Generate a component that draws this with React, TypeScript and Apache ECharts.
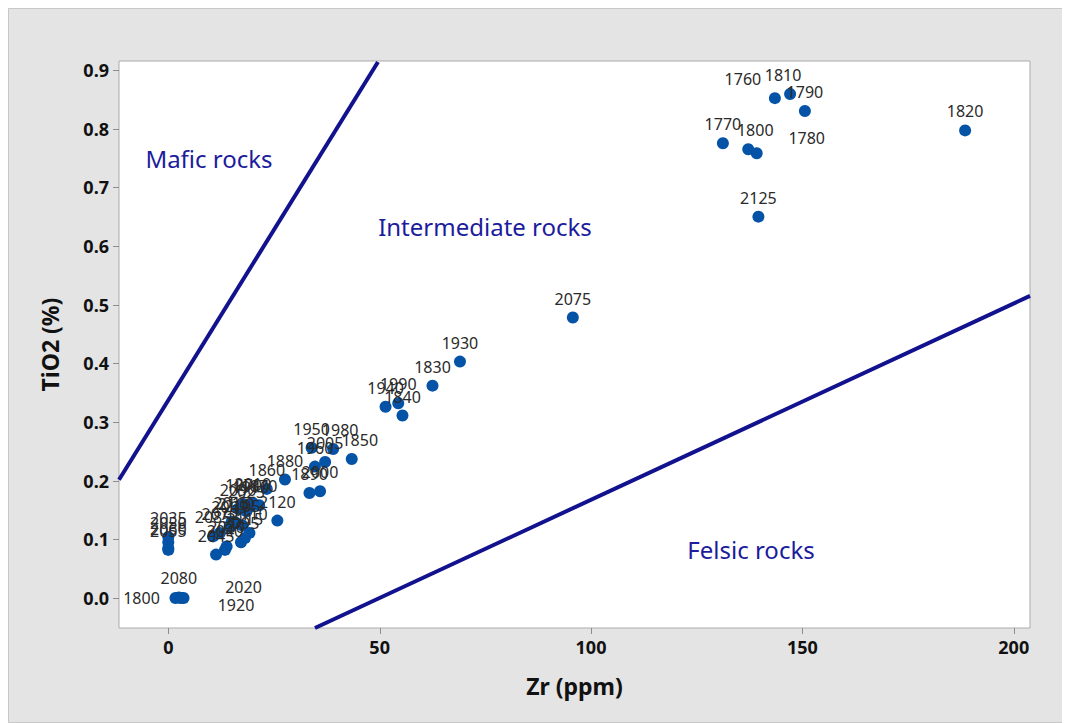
import React, { useEffect, useRef } from "react";
import * as echarts from "echarts";

// ---- data ----
const years: string[] = [
  "1760", "1810", "1790", "1770", "1800", "1780", "1820", "2125", "2075", "1930",
  "1830", "1940", "1990", "1840", "1950", "1980", "1850", "2005", "1960", "2000",
  "1890", "1880", "1860", "2120",
  "2045", "2040", "2030", "2095", "2115", "2110", "2085", "2070", "2065", "2100",
  "2105", "2015", "2025", "2090", "1910", "1970", "2010", "1870",
  "2035", "2050", "2055", "2060",
  "1800", "2080", "1920", "2020",
];
const zr: number[] = [
  143.5, 147.1, 150.6, 131.2, 137.2, 139.2, 188.5, 139.6, 95.7, 69.0,
  62.5, 51.4, 54.4, 55.4, 33.9, 39.0, 43.4, 37.1, 34.7, 35.9,
  33.4, 27.6, 23.3, 25.8,
  11.3, 13.4, 13.8, 17.2, 18.1, 19.2, 10.6, 12.2, 14.5, 16.0,
  17.5, 15.0, 18.5, 16.5, 19.5, 17.8, 20.0, 21.5,
  0.0, 0.0, 0.0, 0.0,
  1.7, 2.5, 3.0, 3.6,
];
const tio2: number[] = [
  0.852, 0.859, 0.830, 0.775, 0.765, 0.758, 0.797, 0.650, 0.478, 0.403,
  0.362, 0.326, 0.332, 0.311, 0.256, 0.254, 0.237, 0.232, 0.224, 0.182,
  0.179, 0.202, 0.186, 0.132,
  0.074, 0.082, 0.088, 0.095, 0.102, 0.111, 0.105, 0.111, 0.122, 0.128,
  0.124, 0.130, 0.148, 0.152, 0.156, 0.160, 0.162, 0.158,
  0.104, 0.095, 0.082, 0.085,
  0.0, 0.001, 0.0, 0.0,
];
const xTicks: number[] = [0, 50, 100, 150, 200];
const yTicks: number[] = [0, 0.1, 0.2, 0.3, 0.4, 0.5, 0.6, 0.7, 0.8, 0.9];
const X_MIN = -11.66;
const X_MAX = 203.85;
const Y_MIN = -0.0511;
const Y_MAX = 0.9153;
// boundary lines (Zr, TiO2)
const maficLine: number[][] = [[-11.66, 0.2015], [49.6, 0.9136]];
const felsicLine: number[][] = [[34.7, -0.0511], [203.85, 0.515]];
const rockNames = ["Mafic rocks", "Intermediate rocks", "Felsic rocks"];

// label offsets (style), keyed by point index
const labelOffsets: Record<number, number[]> = {
  0: [-32, 0],
  1: [-7, 0],
  4: [7, 0],
  5: [50, 4],
  15: [7, 0],
  16: [8, 0],
  46: [-34, 19],
  48: [55, 26],
  49: [60, 8],
};

const FONT = "'Noto Sans', 'Open Sans', sans-serif";
const W = 1062;
const H = 715;
const TICK_COLOR = "#8c8c8c";

export default function App() {
  const ref = useRef<HTMLDivElement>(null);
  useEffect(() => {
    document.body.style.overflow = "hidden";
    const chart = echarts.init(ref.current!, null, { renderer: "svg" });
    const points = zr.map((x, i) => {
      const item: any = { value: [x, tio2[i]], name: years[i] };
      if (labelOffsets[i]) item.label = { offset: labelOffsets[i] };
      return item;
    });
    const axisCommon = {
      type: "value",
      nameLocation: "middle",
      nameTextStyle: { fontSize: 23, fontWeight: "bold", color: "#111", fontFamily: FONT },
      axisLine: { show: false, onZero: false },
      axisTick: { show: false },
      splitLine: { show: false },
    };
    const rockText = (t: string, x: number, y: number) => ({
      type: "text",
      x,
      y,
      style: { text: t, fontSize: 24, fill: "#1c1c9c", fontFamily: FONT, textAlign: "center", textVerticalAlign: "middle" },
    });
    chart.setOption({
      animation: false,
      backgroundColor: "#e4e4e4",
      grid: {
        left: 111,
        right: 40,
        top: 53,
        bottom: 95,
        show: true,
        backgroundColor: "#ffffff",
        borderColor: "#ababab",
        borderWidth: 1,
      },
      xAxis: {
        ...axisCommon,
        min: X_MIN,
        max: X_MAX,
        name: "Zr (ppm)",
        nameGap: 46,
        axisLabel: {
          customValues: xTicks,
          fontSize: 18,
          fontWeight: "bold",
          color: "#111",
          fontFamily: FONT,
          margin: 10,
        },
      },
      yAxis: {
        ...axisCommon,
        min: Y_MIN,
        max: Y_MAX,
        name: "TiO2 (%)",
        nameGap: 58,
        axisLabel: {
          customValues: yTicks,
          fontSize: 18,
          fontWeight: "bold",
          color: "#111",
          fontFamily: FONT,
          margin: 10,
          formatter: (v: number) => v.toFixed(1),
        },
      },
      series: [
        {
          type: "line",
          data: maficLine,
          symbol: "none",
          clip: true,
          lineStyle: { color: "#12128e", width: 4 },
          z: 1,
        },
        {
          type: "line",
          data: felsicLine,
          symbol: "none",
          clip: true,
          lineStyle: { color: "#12128e", width: 4 },
          z: 1,
        },
        {
          type: "scatter",
          data: points,
          symbolSize: 12,
          itemStyle: { color: "#0553a6", opacity: 1 },
          z: 3,
          label: {
            show: true,
            position: "top",
            distance: 5,
            formatter: (p: any) => p.name,
            fontSize: 16,
            color: "#2a2a2a",
            fontFamily: FONT,
          },
        },
        {
          // x axis tick marks, positioned by the axis scale
          type: "custom",
          silent: true,
          clip: false,
          data: xTicks.map((v) => [v, Y_MIN]),
          renderItem: (params: any, api: any) => {
            const c = api.coord([api.value(0), api.value(1)]);
            const x = Math.round(c[0]) + 0.5;
            return {
              type: "line",
              shape: { x1: x, y1: c[1], x2: x, y2: c[1] + 6 },
              style: { stroke: TICK_COLOR, lineWidth: 1 },
            };
          },
          z: 5,
        },
        {
          // y axis tick marks
          type: "custom",
          silent: true,
          clip: false,
          data: yTicks.map((v) => [X_MIN, v]),
          renderItem: (params: any, api: any) => {
            const c = api.coord([api.value(0), api.value(1)]);
            const y = Math.round(c[1]) + 0.5;
            return {
              type: "line",
              shape: { x1: c[0] - 6, y1: y, x2: c[0], y2: y },
              style: { stroke: TICK_COLOR, lineWidth: 1 },
            };
          },
          z: 5,
        },
      ],
      graphic: [
        {
          type: "rect",
          shape: { x: 0.5, y: 0.5, width: W - 1, height: H - 1 },
          style: { fill: "none", stroke: "#c8c8c8", lineWidth: 1 },
          silent: true,
        },
        rockText(rockNames[0], 201, 150),
        rockText(rockNames[1], 477, 218),
        rockText(rockNames[2], 743, 541),
      ],
    });
    return () => chart.dispose();
  }, []);
  return <div ref={ref} style={{ width: W, height: H }} />;
}
